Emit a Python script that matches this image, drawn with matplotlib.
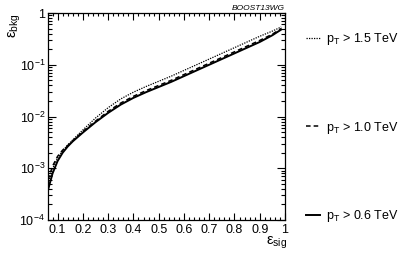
import numpy as np
import matplotlib.pyplot as plt
from matplotlib.ticker import FixedLocator, FuncFormatter, LogLocator, MultipleLocator, NullFormatter

plt.rcParams.update({
    'font.family': 'Liberation Sans',
    'mathtext.fontset': 'custom',
    'mathtext.rm': 'Liberation Sans',
    'mathtext.it': 'Liberation Sans:italic',
    'font.size': 9,
})

# --- DATA (background efficiency as log10) ---
eff_sig = [0.062, 0.08, 0.10, 0.12, 0.14, 0.16, 0.20, 0.25, 0.30, 0.35, 0.40, 0.45,
           0.50, 0.55, 0.60, 0.65, 0.70, 0.75, 0.80, 0.85, 0.90, 0.95, 0.985]

log_bkg_06 = [-3.42, -3.10, -2.86, -2.70, -2.58, -2.48, -2.31, -2.11, -1.93, -1.77, -1.64, -1.53,
              -1.43, -1.33, -1.22, -1.11, -1.00, -0.89, -0.78, -0.67, -0.56, -0.43, -0.32]
log_bkg_10 = [-3.22, -2.96, -2.77, -2.65, -2.56, -2.47, -2.29, -2.09, -1.90, -1.74, -1.61, -1.50,
              -1.40, -1.30, -1.19, -1.08, -0.97, -0.86, -0.75, -0.64, -0.53, -0.41, -0.30]
log_bkg_15 = [-3.30, -3.01, -2.80, -2.66, -2.55, -2.45, -2.26, -2.03, -1.83, -1.66, -1.53, -1.42,
              -1.32, -1.22, -1.11, -1.00, -0.89, -0.78, -0.67, -0.56, -0.45, -0.35, -0.27]

labels = [r'p$_{\rm T}$ > 1.5 TeV', r'p$_{\rm T}$ > 1.0 TeV', r'p$_{\rm T}$ > 0.6 TeV']

# --- PLOT ---
fig = plt.figure(figsize=(3.99, 2.54), dpi=100)
ax = fig.add_axes([48 / 399, 1 - 220 / 254, (285 - 48) / 399, (220 - 13) / 254])

x = np.array(eff_sig)
l15, = ax.plot(x, 10 ** np.array(log_bkg_15), color='black', lw=0.9, ls=(0, (1, 1)))
l10, = ax.plot(x, 10 ** np.array(log_bkg_10), color='black', lw=1.1, ls=(0, (3, 2)))
l06, = ax.plot(x, 10 ** np.array(log_bkg_06), color='black', lw=1.4, ls='-')

ax.set_yscale('log')
ax.set_xlim(0.062, 1.0)
ax.set_ylim(1e-4, 1)

ax.xaxis.set_major_locator(MultipleLocator(0.1))
ax.xaxis.set_minor_locator(MultipleLocator(0.02))
ax.xaxis.set_major_formatter(FuncFormatter(lambda v, p: f'{v:g}'))
ax.yaxis.set_major_locator(FixedLocator([1e-4, 1e-3, 1e-2, 1e-1, 1]))
ax.yaxis.set_minor_locator(LogLocator(base=10, subs=np.arange(2, 10)))
ax.yaxis.set_minor_formatter(NullFormatter())
ax.yaxis.set_major_formatter(FuncFormatter(
    lambda v, p: '1' if v == 1 else r'$10^{%d}$' % round(np.log10(v))))

ax.tick_params(which='both', direction='in', top=True, right=True, width=0.8, labelsize=9)
ax.tick_params(which='major', axis='x', length=5, pad=3)
ax.tick_params(which='minor', axis='x', length=2.5)
ax.tick_params(which='major', axis='y', length=6, pad=2)
ax.tick_params(which='minor', axis='y', length=3)
for s in ax.spines.values():
    s.set_linewidth(0.9)

fig.text(15 / 399, 1 - 13 / 254, r'$\mathrm{ε}_{\mathrm{bkg}}$', rotation=90,
         ha='center', va='top', fontsize=10.5)
fig.text(287 / 399, 1 - 245 / 254, r'$\mathrm{ε}_{\mathrm{sig}}$',
         ha='right', va='baseline', fontsize=10.5)
fig.text(285 / 399, 1 - 10 / 254, 'BOOST13WG', ha='right', va='baseline',
         style='italic', fontsize=6)

fig.legend([l15, l10, l06], labels, loc='center left', bbox_to_anchor=(306 / 399, 0.498),
           frameon=False, borderpad=0, borderaxespad=0, handlelength=1.1,
           handletextpad=0.5, labelspacing=5.8, fontsize=9)

plt.savefig('out.png', dpi=100)
